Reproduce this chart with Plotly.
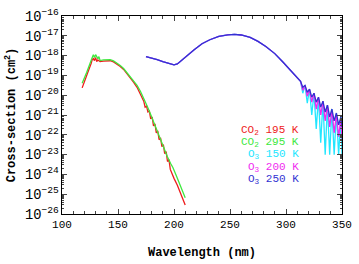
import plotly.graph_objects as go

# ---------------- data ----------------
co2_wl = [118, 120, 122, 124, 126, 127, 128, 129, 130, 131, 132, 134, 137, 140, 143, 146,
          149, 152, 155, 158, 161, 164, 167, 170, 172,
          173.0, 174.2, 175.5, 176.7, 178.0, 179.2, 180.5, 181.7, 183.0, 184.2, 185.5,
          186.7, 188.0, 189.2, 190.5, 191.7, 193.0, 194.2, 195.5, 196.7,
          198, 200, 203, 206, 210]
co2_195 = [2.34e-20, 4.47e-20, 1.0e-19, 2.0e-19, 3.98e-19, 6.31e-19, 7.08e-19, 5.62e-19,
           7.94e-19, 5.01e-19, 6.03e-19, 5.01e-19, 5.25e-19, 5.62e-19, 5.50e-19, 4.79e-19,
           3.80e-19, 2.82e-19, 2.0e-19, 1.26e-19, 7.59e-20, 4.47e-20, 2.51e-20, 1.12e-20, 6.31e-21,
           5.01e-21, 2.51e-21, 2.82e-21, 1.41e-21, 1.58e-21, 6.31e-22, 7.94e-22, 2.82e-22,
           3.55e-22, 1.26e-22, 1.58e-22, 5.62e-23, 7.08e-23, 2.51e-23, 3.16e-23, 1.12e-23,
           1.41e-23, 4.47e-24, 5.62e-24, 1.78e-24,
           1.12e-24, 6.31e-25, 2.82e-25, 1.12e-25, 2.88e-26]

co2_wl_295 = [118, 120, 122, 124, 126, 127, 128, 129, 130, 131, 132, 133, 134, 137, 140, 143,
              146, 149, 152, 155, 158, 161, 164, 167, 170, 173, 176, 179, 182, 185, 188,
              191, 194, 197, 199, 202, 205, 208, 210]
co2_295 = [3.98e-20, 7.08e-20, 1.41e-19, 2.82e-19, 5.01e-19, 7.94e-19, 1.12e-18, 7.94e-19,
           1.12e-18, 8.91e-19, 7.08e-19, 8.91e-19, 5.62e-19, 6.03e-19, 6.31e-19, 6.31e-19,
           5.37e-19, 4.27e-19, 3.16e-19, 2.24e-19, 1.41e-19, 8.91e-20, 5.62e-20, 3.16e-20,
           1.58e-20, 7.08e-21, 2.82e-21, 1.12e-21, 3.98e-22, 1.41e-22, 5.62e-23, 2.0e-23,
           7.94e-24, 3.55e-24, 2.24e-24, 8.91e-25, 3.55e-25, 1.26e-25, 6.61e-26]

o3_wl = [175, 180, 185, 190, 195, 200, 203, 207, 212, 218, 225, 232, 240, 248, 254, 260,
         268, 275, 282, 290, 297, 304, 311,
         313, 315, 317, 319, 321, 323, 325, 327, 329, 331, 333, 335, 337, 339, 341, 343,
         345, 347, 349, 350]
o3_common = [8.91e-19, 7.59e-19, 6.31e-19, 5.01e-19, 3.98e-19, 3.39e-19, 3.80e-19, 6.03e-19,
             1.0e-18, 2.0e-18, 3.98e-18, 6.31e-18, 9.33e-18, 1.12e-17, 1.17e-17, 1.10e-17,
             8.32e-18, 5.25e-18, 2.88e-18, 1.26e-18, 4.90e-19, 1.78e-19, 6.17e-20]
o3_250_tail = [5.01e-20, 2.51e-20, 3.16e-20, 1.41e-20, 2.0e-20, 7.94e-21, 1.26e-20, 4.47e-21,
               7.94e-21, 2.51e-21, 5.01e-21, 1.41e-21, 3.16e-21, 7.94e-22, 2.0e-21, 5.01e-22,
               1.26e-21, 3.16e-22, 7.94e-22, 2.51e-22]
o3_200_tail = [5.01e-20, 1.78e-20, 3.16e-20, 8.91e-21, 2.0e-20, 4.47e-21, 1.26e-20, 2.0e-21,
               7.94e-21, 1.0e-21, 5.01e-21, 5.01e-22, 3.16e-21, 2.51e-22, 1.78e-21, 1.26e-22,
               1.12e-21, 7.94e-23, 7.08e-22, 6.31e-23]
o3_150_tail = [5.01e-20, 1.26e-20, 3.16e-20, 3.98e-21, 2.0e-20, 1.0e-21, 1.26e-20, 2.0e-22,
               7.94e-21, 3.98e-23, 5.01e-21, 1.0e-23, 3.16e-21, 1.0e-23, 2.0e-21, 1.0e-23,
               1.26e-21, 1.0e-23, 7.94e-22, 1.0e-23]
o3_250 = o3_common + o3_250_tail
o3_200 = o3_common + o3_200_tail
o3_150 = o3_common + o3_150_tail

legend_labels = ["CO<sub>2</sub> 195 K", "CO<sub>2</sub> 295 K", "O<sub>3</sub> 150 K",
                 "O<sub>3</sub> 200 K", "O<sub>3</sub> 250 K"]
legend_colors = ["#ee1c1c", "#3ee83e", "#22e6ff", "#f02af0", "#3232d2"]

# ---------------- figure ----------------
FONT = "Liberation Mono"
fig = go.Figure()
series = [
    (co2_wl, co2_195, legend_colors[0]),
    (co2_wl_295, co2_295, legend_colors[1]),
    (o3_wl, o3_150, legend_colors[2]),
    (o3_wl, o3_200, legend_colors[3]),
    (o3_wl, o3_250, legend_colors[4]),
]
for x, y, c in series:
    fig.add_trace(go.Scatter(x=x, y=y, mode="lines", line=dict(color=c, width=1.3),
                             showlegend=False))

ys = [0.421, 0.360, 0.298, 0.236, 0.175]
for lab, col, yy in zip(legend_labels, legend_colors, ys):
    fig.add_annotation(xref="paper", yref="paper", x=0.85, y=yy, text=lab,
                       showarrow=False, xanchor="right", yanchor="middle", borderpad=0,
                       font=dict(family=FONT, size=11, color=col))

fig.update_xaxes(range=[100, 350], dtick=50, tick0=100, ticks="inside", ticklen=5,
                 showline=True, linecolor="black", linewidth=1, mirror="allticks",
                 showgrid=False, zeroline=False, ticklabeloverflow="allow",
                 minor=dict(dtick=10, ticks="inside", ticklen=3, showgrid=False),
                 tickfont=dict(family=FONT, size=11, color="black"),
                 title=dict(text="<b>Wavelength (nm)</b>",
                            font=dict(family=FONT, size=12, color="black"), standoff=17))
fig.update_yaxes(type="log", range=[-26, -16], dtick=1, exponentformat="power",
                 ticks="inside", ticklen=5,
                 showline=True, linecolor="black", linewidth=1, mirror="allticks",
                 showgrid=False, zeroline=False,
                 minor=dict(ticks="inside", ticklen=2, showgrid=False),
                 tickfont=dict(family=FONT, size=11, color="black"),
                 title=dict(text="<b>Cross-section (cm<sup>2</sup>)</b>",
                            font=dict(family=FONT, size=12, color="black"), standoff=6))
fig.update_layout(width=359, height=264, margin=dict(l=62, r=7, t=10, b=38),
                  plot_bgcolor="white", paper_bgcolor="white")
fig.write_html("out.html")
